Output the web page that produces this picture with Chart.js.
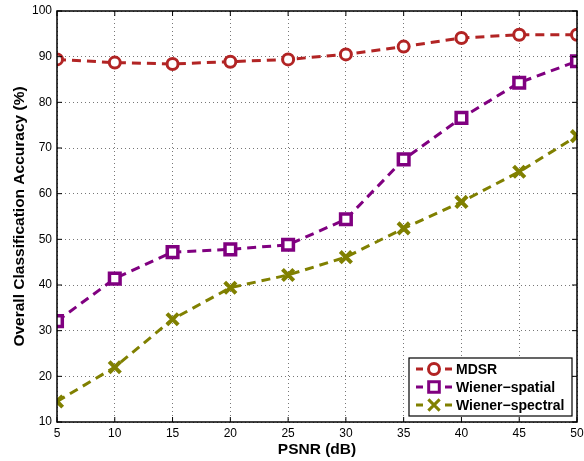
<!DOCTYPE html>
<html>
<head>
<meta charset="utf-8">
<script src="https://cdn.jsdelivr.net/npm/chart.js@4.4.1/dist/chart.umd.min.js"></script>
<style>
  html, body { margin: 0; padding: 0; background: #fff; }
  #wrap { width: 584px; height: 461px; }
</style>
</head>
<body>
<div id="wrap"><canvas id="myChart" width="584" height="461"></canvas></div>
<script>
// PSNR values on the x axis
const psnr = [5, 10, 15, 20, 25, 30, 35, 40, 45, 50];

// accuracy (%) per method
const mdsr = [89.4, 88.7, 88.4, 88.9, 89.4, 90.5, 92.2, 94.1, 94.8, 94.8];
const wienerSpatial = [32.1, 41.4, 47.2, 47.8, 48.8, 54.4, 67.5, 76.6, 84.3, 89.0];
const wienerSpectral = [14.5, 22.0, 32.5, 39.4, 42.2, 46.1, 52.4, 58.2, 64.8, 72.6];

const xTicks = [5, 10, 15, 20, 25, 30, 35, 40, 45, 50];
const yTicks = [10, 20, 30, 40, 50, 60, 70, 80, 90, 100];

const FONT = '"Liberation Sans", Arial, sans-serif';

const toXY = vals => vals.map((v, i) => ({ x: psnr[i], y: v }));

// box round the plot area + inward ticks (matlab style)
const boxPlugin = {
  id: 'box',
  afterDatasetsDraw(chart) {
    const { ctx, chartArea: a, scales } = chart;
    ctx.save();
    ctx.strokeStyle = '#000';
    ctx.lineWidth = 1;
    xTicks.forEach(t => {
      const px = scales.x.getPixelForValue(t);
      ctx.beginPath();
      ctx.moveTo(px, a.bottom); ctx.lineTo(px, a.bottom - 5);
      ctx.moveTo(px, a.top); ctx.lineTo(px, a.top + 5);
      ctx.stroke();
    });
    yTicks.forEach(t => {
      const py = scales.y.getPixelForValue(t);
      ctx.beginPath();
      ctx.moveTo(a.left, py); ctx.lineTo(a.left + 5, py);
      ctx.moveTo(a.right, py); ctx.lineTo(a.right - 5, py);
      ctx.stroke();
    });
    ctx.lineWidth = 1.5;
    ctx.strokeRect(a.left, a.top, a.right - a.left, a.bottom - a.top);
    ctx.restore();
  }
};

// legend box in lower right corner
const legendPlugin = {
  id: 'boxLegend',
  afterDraw(chart) {
    const { ctx, chartArea: a } = chart;
    const w = 163, h = 58;
    const x0 = a.right - 5 - w, y0 = a.bottom - 6 - h;
    ctx.save();
    ctx.fillStyle = '#fff';
    ctx.fillRect(x0, y0, w, h);
    ctx.strokeStyle = '#000';
    ctx.lineWidth = 1.2;
    ctx.strokeRect(x0, y0, w, h);
    chart.data.datasets.forEach((ds, i) => {
      const cy = y0 + 11 + i * 18;
      ctx.strokeStyle = ds.borderColor;
      ctx.lineWidth = 3;
      ctx.setLineDash([7, 22, 7]);
      ctx.beginPath();
      ctx.moveTo(x0 + 7, cy); ctx.lineTo(x0 + 43, cy);
      ctx.stroke();
      ctx.setLineDash([]);
      ctx.fillStyle = ds.pointBackgroundColor;
      ctx.strokeStyle = ds.borderColor;
      Chart.helpers.drawPoint(ctx, {
        pointStyle: ds.pointStyle,
        radius: ds.pointRadius,
        borderWidth: ds.pointBorderWidth,
        rotation: 0
      }, x0 + 25, cy);
      ctx.fillStyle = '#000';
      ctx.font = 'bold 14px ' + FONT;
      ctx.textBaseline = 'middle';
      ctx.fillText(ds.label, x0 + 47, cy + 1);
    });
    ctx.restore();
  }
};

new Chart(document.getElementById('myChart').getContext('2d'), {
  type: 'line',
  data: {
    datasets: [
      {
        label: 'MDSR',
        data: toXY(mdsr),
        borderColor: '#b22424',
        pointBackgroundColor: '#fff',
        pointStyle: 'circle',
        pointRadius: 5.5,
        pointBorderWidth: 3
      },
      {
        label: 'Wiener\u2212spatial',
        data: toXY(wienerSpatial),
        borderColor: '#800080',
        pointBackgroundColor: '#fff',
        pointStyle: 'rect',
        pointRadius: 7.5,
        pointBorderWidth: 3.5
      },
      {
        label: 'Wiener\u2212spectral',
        data: toXY(wienerSpectral),
        borderColor: '#808000',
        pointBackgroundColor: '#808000',
        pointStyle: 'crossRot',
        pointRadius: 8,
        pointBorderWidth: 4
      }
    ].map(ds => Object.assign(ds, {
      borderWidth: 3,
      borderDash: [9, 6],
      pointBorderColor: ds.borderColor,
      fill: false,
      tension: 0
    }))
  },
  options: {
    responsive: false,
    animation: false,
    layout: { autoPadding: false, padding: { top: 11, right: 7, left: 0, bottom: 0 } },
    plugins: {
      legend: { display: false },
      tooltip: { enabled: false }
    },
    scales: {
      x: {
        type: 'linear',
        min: 5,
        max: 50,
        afterBuildTicks: s => { s.ticks = xTicks.map(v => ({ value: v })); },
        afterFit: s => { s.height = 39; s.paddingLeft = 0; s.paddingRight = 0; },
        border: { display: false, dash: [1, 3] },
        grid: { color: '#777', lineWidth: 1, drawTicks: false },
        ticks: { color: '#000', padding: 4, font: { family: FONT, size: 12 } },
        title: {
          display: true,
          text: 'PSNR (dB)',
          color: '#000',
          padding: { top: 3, bottom: 2 },
          font: { family: FONT, size: 15.5, weight: 'bold' }
        }
      },
      y: {
        min: 10,
        max: 100,
        afterBuildTicks: s => { s.ticks = yTicks.map(v => ({ value: v })); },
        afterFit: s => { s.width = 57; s.paddingTop = 0; s.paddingBottom = 0; },
        border: { display: false, dash: [1, 3] },
        grid: { color: '#777', lineWidth: 1, drawTicks: false },
        ticks: { color: '#000', padding: 5, font: { family: FONT, size: 12 } },
        title: {
          display: true,
          text: 'Overall Classification Accuracy (%)',
          color: '#000',
          padding: { top: 10, bottom: 0 },
          font: { family: FONT, size: 15.5, weight: 'bold' }
        }
      }
    }
  },
  plugins: [boxPlugin, legendPlugin]
});
</script>
</body>
</html>
